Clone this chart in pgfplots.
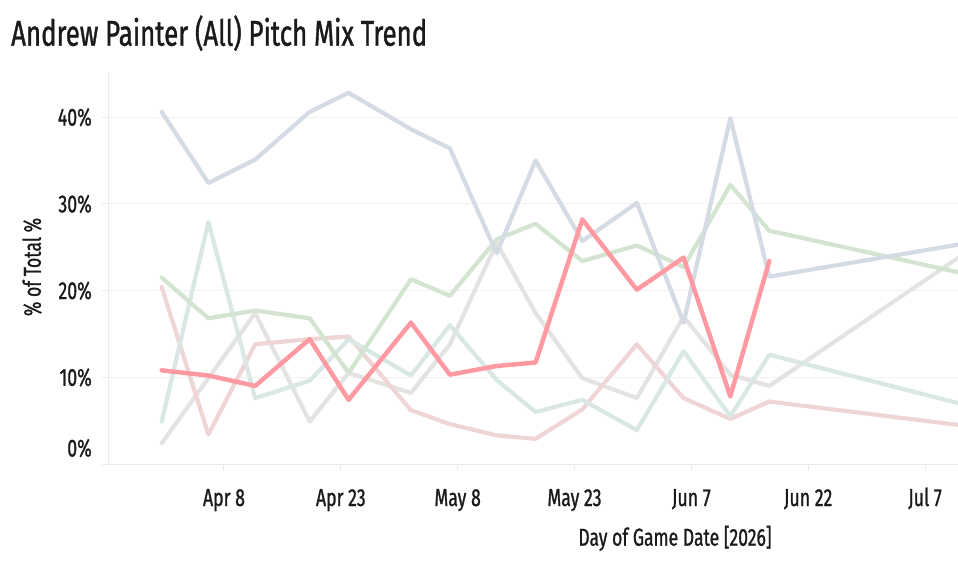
\documentclass[border=0pt]{standalone}
\usepackage{fontspec}
\setmainfont{Fira Sans}[FakeStretch=0.72, FakeBold=1]
\usepackage{pgfplots}
\usepackage{pgfplotstable}
\pgfplotsset{compat=1.18}
\definecolor{cBlue}{HTML}{D4DBE5}
\definecolor{cGreen}{HTML}{D3E4D0}
\definecolor{cTeal}{HTML}{D9E7E5}
\definecolor{cGray}{HTML}{E5E3E1}
\definecolor{cPink}{HTML}{EFD5D5}
\definecolor{cRed}{HTML}{FF9AA2}
\definecolor{txt}{HTML}{1A1A1A}
\definecolor{axgray}{HTML}{EBEBEB}
\definecolor{grgray}{HTML}{F2F2F2}

\pgfplotstableread{
day   blue  green teal gray pink
90    40.6  21.5  4.9  2.4  20.4
96    32.4  16.8  27.9 9.9  3.4
102   35.1  17.7  7.6  17.4 13.8
109   40.6  16.8  9.6  4.9  14.4
114   42.8  10.5  14.4 10.5 14.7
122   38.6  21.3  10.2 8.2  6.2
127   36.4  19.4  16.0 13.8 4.6
133   24.3  25.9  9.7  25.5 3.3
138   35.0  27.7  6.0  17.4 2.9
144   25.7  23.4  7.4  9.9  6.3
151   30.1  25.2  3.9  7.6  13.8
157   16.3  22.7  13.0 17.0 7.6
163   39.9  32.2  5.5  10.3 5.2
168   21.6  26.9  12.6 9.0  7.2
192.3 25.3  22.1  7.0  23.8 4.5
}\mixdata

\pgfplotstableread{
day  red
90   10.8
96   10.2
102  9.0
109  14.4
114  7.4
122  16.3
127  10.3
133  11.3
138  11.7
144  28.2
151  20.1
157  23.8
163  7.8
168  23.4
}\reddata

\begin{document}
\begin{tikzpicture}
\useasboundingbox (0bp,0bp) rectangle (958bp,584bp);
\node[anchor=base west, inner sep=0, text=txt, font=\fontsize{36}{40}\selectfont] at (11bp,538.3bp) {Andrew Painter (All) Pitch Mix Trend};
\begin{axis}[
  at={(108bp,120bp)}, anchor=south west,
  scale only axis, width=850bp, height=392bp,
  xmin=83.11, xmax=192.23, ymin=0, ymax=45.2,
  axis x line*=bottom, axis y line*=left,
  axis line style={-, draw=axgray, line width=1bp},
  xtick={98,113,128,143,158,173,188},
  xticklabels={Apr 8,Apr 23,May 8,May 23,Jun 7,Jun 22,Jul 7},
  ytick={0,10,20,30,40},
  yticklabels={{\raisebox{16bp}{0\%}},10\%,20\%,30\%,40\%},
  tick align=outside, major tick length=6bp,
  tick style={draw=axgray, line width=1bp},
  ymajorgrids, grid style={draw=grgray, line width=1bp},
  ticklabel style={text=txt, font=\fontsize{24.7}{28}\selectfont, inner sep=0},
  xticklabel style={anchor=base, yshift=-36bp},
  yticklabel style={anchor=base east, xshift=-10bp, yshift=-8.5bp},
  xlabel={Day of Game Date [2026]},
  ylabel={\% of Total \%},
  label style={text=txt, font=\fontsize{24.5}{28}\selectfont, inner sep=0},
  xlabel style={at={(axis description cs:0.667,-0.2084)}, anchor=base},
  ylabel style={at={(axis description cs:-0.0894,0.5026)}, anchor=center},
  every axis plot/.append style={line width=4.2bp, line join=round, line cap=round, mark=none},
]
\addplot[cGray] table[x=day,y=gray] {\mixdata};
\addplot[cPink] table[x=day,y=pink] {\mixdata};
\addplot[cTeal] table[x=day,y=teal] {\mixdata};
\addplot[cGreen] table[x=day,y=green] {\mixdata};
\addplot[cBlue] table[x=day,y=blue] {\mixdata};
\addplot[cRed, line width=4.5bp] table[x=day,y=red] {\reddata};
\end{axis}
\end{tikzpicture}
\end{document}
